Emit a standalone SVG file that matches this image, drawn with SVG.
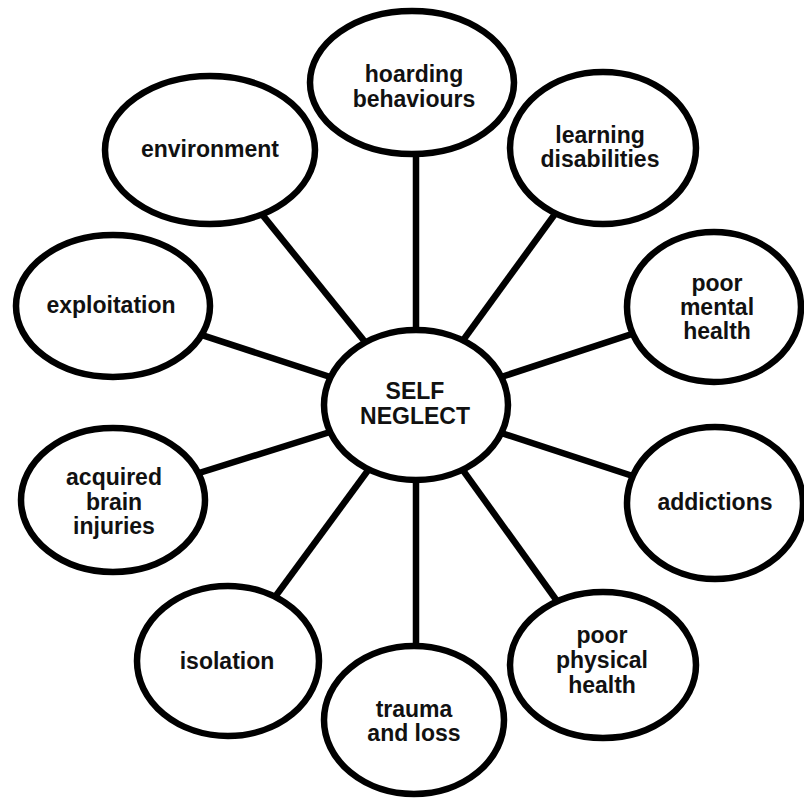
<svg xmlns="http://www.w3.org/2000/svg" width="804" height="799" viewBox="0 0 804 799">
<style>
.node ellipse{fill:#fff;stroke:#000;stroke-width:6.5}
.node text{font-family:"Liberation Sans",Arial,sans-serif;font-weight:bold;font-size:23px;fill:#111;text-anchor:middle}
#connectors line{stroke:#000;stroke-width:6.5}
</style>
<rect width="804" height="799" fill="#fff"/>
<g id="connectors">
<line x1="416" y1="405" x2="416" y2="82"/>
<line x1="416" y1="405" x2="603" y2="148"/>
<line x1="416" y1="405" x2="714" y2="307"/>
<line x1="416" y1="405" x2="715" y2="503"/>
<line x1="416" y1="405" x2="603" y2="665"/>
<line x1="416" y1="405" x2="416" y2="720"/>
<line x1="416" y1="405" x2="228" y2="661"/>
<line x1="416" y1="405" x2="113" y2="500"/>
<line x1="416" y1="405" x2="113" y2="306"/>
<line x1="416" y1="405" x2="210" y2="150"/>
</g>
<g id="hoarding" class="node"><ellipse cx="412" cy="82.5" rx="102" ry="71.5"/><text x="414" y="82">hoarding</text><text x="414" y="107">behaviours</text></g>
<g id="learning" class="node"><ellipse cx="603" cy="148" rx="93" ry="76"/><text x="600" y="143">learning</text><text x="600" y="167">disabilities</text></g>
<g id="mental" class="node"><ellipse cx="714" cy="307" rx="87" ry="75"/><text x="717" y="291">poor</text><text x="717" y="315">mental</text><text x="717" y="339">health</text></g>
<g id="addictions" class="node"><ellipse cx="715" cy="503" rx="88" ry="76"/><text x="715" y="510">addictions</text></g>
<g id="physical" class="node"><ellipse cx="603" cy="665" rx="93" ry="73"/><text x="602" y="643">poor</text><text x="602" y="668">physical</text><text x="602" y="693">health</text></g>
<g id="trauma" class="node"><ellipse cx="414" cy="720" rx="90" ry="74"/><text x="414" y="717">trauma</text><text x="414" y="741">and loss</text></g>
<g id="isolation" class="node"><ellipse cx="228" cy="661" rx="91" ry="75"/><text x="227" y="669">isolation</text></g>
<g id="acquired" class="node"><ellipse cx="113" cy="500" rx="92" ry="72"/><text x="114" y="485">acquired</text><text x="114" y="510">brain</text><text x="114" y="534">injuries</text></g>
<g id="exploitation" class="node"><ellipse cx="113" cy="306" rx="97" ry="71"/><text x="111" y="313">exploitation</text></g>
<g id="environment" class="node"><ellipse cx="210" cy="150" rx="105" ry="74"/><text x="210" y="157">environment</text></g>
<g id="center" class="node"><ellipse cx="416" cy="405" rx="92" ry="75"/><text x="415" y="399">SELF</text><text x="415" y="424">NEGLECT</text></g>
</svg>
